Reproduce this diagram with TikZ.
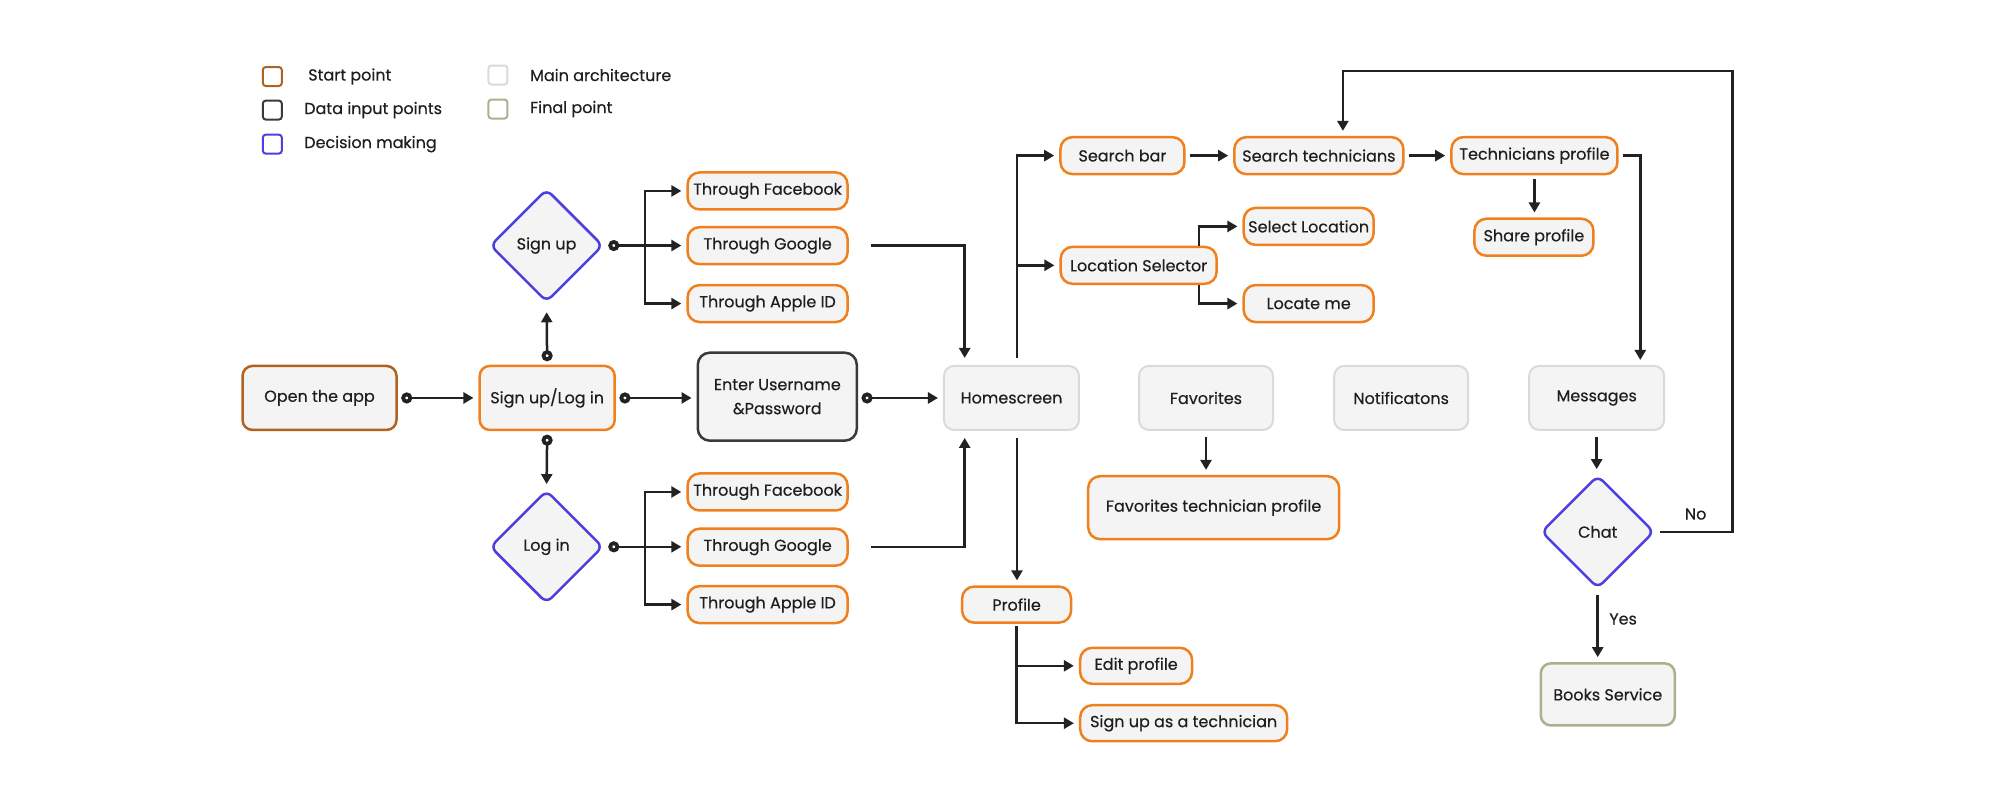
\documentclass[tikz,border=0pt]{standalone}
\usepackage{fontspec}
\setmainfont{Poppins}[FakeBold=0.35]
\usetikzlibrary{arrows.meta,shapes.geometric}
\definecolor{orng}{RGB}{240,128,30}
\definecolor{brwn}{RGB}{178,98,32}
\definecolor{dark}{RGB}{58,58,58}
\definecolor{blu}{RGB}{75,63,224}
\definecolor{grayb}{RGB}{218,218,218}
\definecolor{olive}{RGB}{172,176,140}
\definecolor{nodefill}{RGB}{244,244,244}
\definecolor{lin}{RGB}{34,34,34}
\definecolor{txt}{RGB}{30,30,30}
\begin{document}
\begin{tikzpicture}[x=1.2755pt,y=-1.2755pt,
  font=\fontsize{16}{24}\selectfont, text=txt,
  base/.style={rectangle, rounded corners=10pt, fill=nodefill, line width=2.5pt, align=center, inner sep=0pt},
  mainbox/.style={base, draw=grayb, line width=2pt, minimum height=64pt},
  orbox/.style={base, draw=orng, minimum height=64pt},
  startbox/.style={base, draw=brwn, minimum height=64pt},
  databox/.style={base, draw=dark, rounded corners=12pt},
  finalbox/.style={base, draw=olive},
  pill/.style={base, draw=orng, minimum height=37pt, rounded corners=12pt},
  decision/.style={diamond, aspect=1, draw=blu, line width=2.5pt, fill=nodefill, rounded corners=7pt, minimum width=113pt, minimum height=113pt, inner sep=0pt},
  conn/.style={draw=lin, line width=2.5pt, -{Triangle[length=10pt,width=11pt]}, shorten >=5pt},
  dotconn/.style={draw=lin, line width=2.5pt, {Circle[open,length=11pt,width=11pt,line width'=3.8pt,fill=white]}-{Triangle[length=10pt,width=11pt]}, shorten >=5pt, shorten <=3.5pt},
  dotline/.style={draw=lin, line width=2.5pt, {Circle[open,length=11pt,width=11pt,line width'=3.8pt,fill=white]}-{Triangle[length=10pt,width=11pt]}, shorten >=5pt, shorten <=4pt},
  legsq/.style={rectangle, rounded corners=3pt, line width=2pt, minimum size=19pt, inner sep=0pt, fill=white},
  legtxt/.style={anchor=west, inner sep=0pt}
]
\useasboundingbox (0,0) rectangle (1568,627);

% legend
\node[legsq, draw=brwn] (lg1) at (213.5,60) {};
\node[legtxt] (lt1) at (241.5,60) {Start point};
\node[legsq, draw=dark] (lg2) at (213.5,86.3) {};
\node[legtxt] (lt2) at (238.4,86.3) {Data input points};
\node[legsq, draw=blu] (lg3) at (213.5,113) {};
\node[legtxt] (lt3) at (238.4,113) {Decision making};
\node[legsq, draw=grayb] (lg4) at (390.4,58.8) {};
\node[legtxt] (lt4) at (415.5,58.8) {Main architecture};
\node[legsq, draw=olive] (lg5) at (390.4,85.5) {};
\node[legtxt] (lt5) at (415.5,85.5) {Final point};

% nodes
\node[startbox, minimum width=154pt] (open) at (250.5,312) {Open the app};
\node[orbox, minimum width=135pt] (signlog) at (429,312) {Sign up/Log in};
\node[databox, minimum width=159pt, minimum height=88pt] (enter) at (609.4,311) {Enter Username\\\&Password};
\node[decision] (signup) at (428.5,192.5) {Sign up};
\node[decision] (login) at (428.5,428.7) {Log in};
\node[pill, minimum width=160pt] (fb1) at (601.8,149.7) {Through Facebook};
\node[pill, minimum width=160pt] (g1) at (601.8,192.6) {Through Google};
\node[pill, minimum width=160pt] (a1) at (601.8,238) {Through Apple ID};
\node[pill, minimum width=160pt] (fb2) at (601.8,385.7) {Through Facebook};
\node[pill, minimum width=160pt] (g2) at (601.8,429) {Through Google};
\node[pill, minimum width=160pt] (a2) at (601.8,474) {Through Apple ID};
\node[mainbox, minimum width=135pt] (home) at (793,312) {Homescreen};
\node[mainbox, minimum width=134pt] (fav) at (945.5,312) {Favorites};
\node[mainbox, minimum width=134pt] (notif) at (1098.5,312) {Notificatons};
\node[mainbox, minimum width=135pt] (msg) at (1251.8,312) {Messages};
\node[pill, minimum width=124pt] (sbar) at (880,122) {Search bar};
\node[pill, minimum width=169pt] (stech) at (1034,122) {Search technicians};
\node[pill, minimum width=166pt] (tprof) at (1203,122) {Technicians profile};
\node[pill, minimum width=156pt] (locsel) at (892.7,208) {Location Selector};
\node[pill, minimum width=130pt] (selloc) at (1026,177.5) {Select Location};
\node[pill, minimum width=130pt] (locate) at (1026,238) {Locate me};
\node[pill, minimum width=119pt] (share) at (1202.6,186) {Share profile};
\node[orbox, minimum width=251pt, minimum height=63pt, rounded corners=12pt] (favtech) at (951.5,398) {Favorites technician profile};
\node[pill, minimum width=109pt, minimum height=36pt] (profile) at (797,474) {Profile};
\node[pill, minimum width=112pt, minimum height=36pt] (edit) at (890.7,522) {Edit profile};
\node[pill, minimum width=207pt, minimum height=36pt] (signtech) at (928,567) {Sign up as a technician};
\node[decision] (chat) at (1252.6,417) {Chat};
\node[finalbox, minimum width=134pt, minimum height=62pt] (books) at (1260.5,544.4) {Books Service};

% connectors
\draw[dotconn] (open.east) -- (signlog.west);
\draw[dotconn] (signlog.east) -- (signlog.east -| enter.west);
\draw[dotconn] (enter.east |- home.west) -- (home.west);
\draw[dotconn, shorten >=9pt] (signlog.north) -- (signup.south);
\draw[dotconn, shorten >=5pt] (signlog.south) -- (login.north);

\coordinate (b1) at (505.7,192.6);
\coordinate (b2) at (505.7,429);
\draw[dotline] (signup.east) -- (signup.east -| g1.west);
\draw[conn] (b1) |- (fb1.west);
\draw[conn] (b1) |- (a1.west);
\draw[dotline] (login.east) -- (login.east -| g2.west);
\draw[conn] (b2) |- (fb2.west);
\draw[conn] (b2) |- (a2.west);

\draw[conn, shorten <=22pt, shorten >=7pt] (g1.east) -| ([xshift=-46.8pt]home.north);
\draw[conn, shorten <=22pt, shorten >=7pt] (g2.east) -| ([xshift=-46.8pt]home.south);

\coordinate (hx) at ([xshift=5.5pt]home.north);
\draw[conn, shorten <=7pt] (hx) |- (sbar.west);
\draw[conn] (hx |- locsel.west) -- (locsel.west);
\draw[conn, shorten <=7pt] ([xshift=5.5pt]home.south) -- ([xshift=5.5pt]home.south |- profile.north);
\draw[conn, shorten <=2pt] (profile.south) |- (edit.west);
\draw[conn, shorten <=2pt] (profile.south) |- (signtech.west);

\draw[conn, shorten <=4pt] (sbar.east) -- (stech.west);
\draw[conn, shorten <=4pt] (stech.east) -- (tprof.west);
\draw[conn, shorten <=4pt] (tprof.south) -- (tprof.south |- share.north);
\draw[conn, shorten <=4pt] (tprof.east) -| ([xshift=43.6pt]msg.north);
\draw[conn] ([xshift=60.3pt]locsel.north) |- (selloc.west);
\draw[conn] ([xshift=60.3pt]locsel.south) |- (locate.west);

\draw[conn, shorten <=6pt] (fav.south) -- (fav.south |- favtech.north);
\draw[conn, shorten <=6pt] (msg.south) -- (msg.south |- chat.north);

\coordinate (loop) at (1358.4,55.7);
\draw[conn, shorten <=5pt] (chat.east) -| (loop) -| ([xshift=24pt]stech.north);
\node (no) at (1329.4,403) {No};
\draw[conn, shorten <=5pt] (chat.south) -- (chat.south |- books.north);
\node (yes) at (1272.5,485.3) {Yes};
\end{tikzpicture}
\end{document}
